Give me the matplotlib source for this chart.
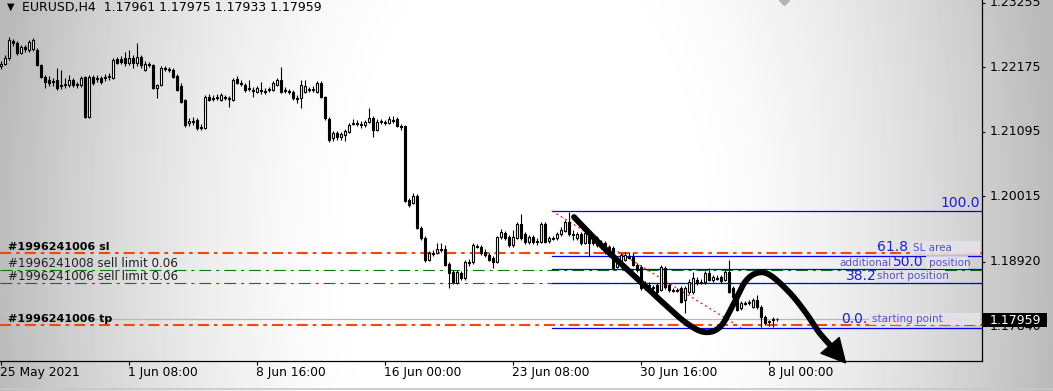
import numpy as np
import matplotlib
matplotlib.use("Agg")
import matplotlib.pyplot as plt
from matplotlib.transforms import blended_transform_factory
from matplotlib.patches import Polygon, Rectangle
from matplotlib.lines import Line2D

plt.rcParams['font.family'] = ['DejaVu Sans']
plt.rcParams['lines.scale_dashes'] = False

# ---------------- data ----------------
header_text = "EURUSD,H4  1.17961 1.17975 1.17933 1.17959"

opens = [
    1.2220, 1.2223, 1.2233, 1.2262, 1.2258, 1.2242, 1.2252, 1.2247, 1.2248, 1.2247,
    1.2221, 1.2201, 1.2196, 1.2195, 1.2196, 1.2188, 1.2188, 1.2188, 1.2196, 1.2190,
    1.2188, 1.2201, 1.2134, 1.2201, 1.2198, 1.2200, 1.2200, 1.2201, 1.2200, 1.2231,
    1.2231, 1.2233, 1.2225, 1.2233, 1.2225, 1.2235, 1.2213, 1.2223, 1.2221, 1.2183,
    1.2188, 1.2216, 1.2215, 1.2213, 1.2203, 1.2186, 1.2163, 1.2124, 1.2128, 1.2129,
    1.2118, 1.2116, 1.2168, 1.2166, 1.2166, 1.2163, 1.2168, 1.2166, 1.2163, 1.2198,
    1.2191, 1.2188, 1.2183, 1.2180, 1.2176, 1.2180, 1.2178, 1.2180, 1.2180, 1.2188,
    1.2196, 1.2180, 1.2178, 1.2176, 1.2166, 1.2166, 1.2176, 1.2180, 1.2180, 1.2176,
    1.2191, 1.2168, 1.2131, 1.2099, 1.2108, 1.2101, 1.2104, 1.2109, 1.2123, 1.2124,
    1.2123, 1.2121, 1.2126, 1.2133, 1.2113, 1.2126, 1.2126, 1.2124, 1.2129, 1.2131,
    1.2119, 1.2119, 1.1995, 1.1990, 1.2002, 1.1949, 1.1932, 1.1895, 1.1907, 1.1907,
    1.1913, 1.1913, 1.1888, 1.1875, 1.1856, 1.1873, 1.1865, 1.1892, 1.1892, 1.1918,
    1.1917, 1.1908, 1.1903, 1.1898, 1.1892, 1.1934, 1.1940, 1.1934, 1.1920, 1.1932,
    1.1955, 1.1939, 1.1925, 1.1934, 1.1927, 1.1925, 1.1955, 1.1927, 1.1932, 1.1932,
    1.1939, 1.1944, 1.1959, 1.1939, 1.1932, 1.1939, 1.1923, 1.1942, 1.1934, 1.1920,
    1.1923, 1.1923, 1.1917, 1.1915, 1.1883, 1.1892, 1.1895, 1.1900, 1.1900, 1.1887,
    1.1883, 1.1857, 1.1853, 1.1848, 1.1853, 1.1845, 1.1882, 1.1853, 1.1845, 1.1843,
    1.1848, 1.1828, 1.1841, 1.1841, 1.1862, 1.1858, 1.1858, 1.1873, 1.1862, 1.1865,
    1.1867, 1.1862, 1.1875, 1.1848, 1.1833, 1.1815, 1.1823, 1.1823, 1.1816, 1.1828,
    1.1816, 1.1800, 1.1791, 1.1795, 1.17961,
]
highs = [
    1.2228, 1.2238, 1.2268, 1.2265, 1.2262, 1.2255, 1.2255, 1.2263, 1.2267, 1.2250,
    1.2223, 1.2205, 1.2203, 1.2200, 1.2216, 1.2213, 1.2200, 1.2205, 1.2200, 1.2193,
    1.2203, 1.2203, 1.2205, 1.2205, 1.2205, 1.2203, 1.2206, 1.2208, 1.2233, 1.2235,
    1.2236, 1.2243, 1.2247, 1.2238, 1.2258, 1.2238, 1.2228, 1.2226, 1.2223, 1.2190,
    1.2220, 1.2220, 1.2218, 1.2216, 1.2206, 1.2191, 1.2164, 1.2133, 1.2134, 1.2133,
    1.2123, 1.2171, 1.2173, 1.2171, 1.2173, 1.2175, 1.2171, 1.2170, 1.2200, 1.2203,
    1.2196, 1.2191, 1.2196, 1.2185, 1.2186, 1.2193, 1.2183, 1.2185, 1.2195, 1.2200,
    1.2218, 1.2185, 1.2181, 1.2180, 1.2171, 1.2196, 1.2196, 1.2185, 1.2186, 1.2195,
    1.2195, 1.2170, 1.2134, 1.2111, 1.2111, 1.2109, 1.2114, 1.2124, 1.2131, 1.2129,
    1.2128, 1.2129, 1.2149, 1.2136, 1.2131, 1.2131, 1.2129, 1.2136, 1.2136, 1.2134,
    1.2123, 1.2121, 1.1999, 1.2007, 1.2005, 1.1952, 1.1935, 1.1910, 1.1912, 1.1923,
    1.1923, 1.1920, 1.1892, 1.1878, 1.1878, 1.1877, 1.1895, 1.1897, 1.1923, 1.1922,
    1.1920, 1.1913, 1.1907, 1.1902, 1.1935, 1.1947, 1.1944, 1.1937, 1.1945, 1.1959,
    1.1972, 1.1942, 1.1937, 1.1937, 1.1932, 1.1959, 1.1959, 1.1935, 1.1935, 1.1942,
    1.1950, 1.1962, 1.1975, 1.1945, 1.1942, 1.1942, 1.1944, 1.1945, 1.1937, 1.1935,
    1.1928, 1.1927, 1.1920, 1.1918, 1.1902, 1.1907, 1.1908, 1.1908, 1.1908, 1.1890,
    1.1887, 1.1860, 1.1858, 1.1853, 1.1857, 1.1887, 1.1885, 1.1857, 1.1848, 1.1848,
    1.1851, 1.1851, 1.1863, 1.1875, 1.1867, 1.1863, 1.1877, 1.1882, 1.1870, 1.1870,
    1.1870, 1.1878, 1.1895, 1.1851, 1.1836, 1.1826, 1.1826, 1.1828, 1.1831, 1.1836,
    1.1820, 1.1803, 1.1795, 1.1800, 1.17975,
]
lows = [
    1.2215, 1.2221, 1.2230, 1.2253, 1.2238, 1.2240, 1.2243, 1.2243, 1.2245, 1.2220,
    1.2200, 1.2183, 1.2186, 1.2186, 1.2180, 1.2181, 1.2183, 1.2185, 1.2185, 1.2183,
    1.2185, 1.2133, 1.2133, 1.2188, 1.2193, 1.2190, 1.2195, 1.2196, 1.2198, 1.2223,
    1.2223, 1.2220, 1.2221, 1.2216, 1.2220, 1.2216, 1.2211, 1.2218, 1.2181, 1.2166,
    1.2186, 1.2211, 1.2210, 1.2200, 1.2178, 1.2158, 1.2118, 1.2119, 1.2121, 1.2113,
    1.2113, 1.2114, 1.2161, 1.2161, 1.2163, 1.2161, 1.2163, 1.2151, 1.2161, 1.2190,
    1.2186, 1.2176, 1.2178, 1.2168, 1.2175, 1.2173, 1.2173, 1.2176, 1.2178, 1.2186,
    1.2175, 1.2175, 1.2173, 1.2163, 1.2158, 1.2149, 1.2175, 1.2176, 1.2176, 1.2175,
    1.2166, 1.2129, 1.2093, 1.2094, 1.2096, 1.2096, 1.2094, 1.2108, 1.2121, 1.2119,
    1.2116, 1.2118, 1.2124, 1.2101, 1.2111, 1.2123, 1.2121, 1.2123, 1.2124, 1.2118,
    1.2113, 1.1992, 1.1984, 1.1989, 1.1947, 1.1928, 1.1892, 1.1893, 1.1902, 1.1905,
    1.1908, 1.1885, 1.1848, 1.1855, 1.1855, 1.1862, 1.1862, 1.1885, 1.1888, 1.1915,
    1.1903, 1.1900, 1.1893, 1.1882, 1.1890, 1.1930, 1.1928, 1.1917, 1.1917, 1.1930,
    1.1928, 1.1922, 1.1922, 1.1922, 1.1920, 1.1923, 1.1923, 1.1923, 1.1928, 1.1928,
    1.1935, 1.1942, 1.1935, 1.1928, 1.1928, 1.1920, 1.1922, 1.1902, 1.1920, 1.1917,
    1.1913, 1.1905, 1.1900, 1.1878, 1.1882, 1.1890, 1.1893, 1.1897, 1.1885, 1.1875,
    1.1845, 1.1845, 1.1848, 1.1845, 1.1838, 1.1843, 1.1846, 1.1841, 1.1841, 1.1841,
    1.1823, 1.1806, 1.1838, 1.1838, 1.1853, 1.1855, 1.1855, 1.1860, 1.1858, 1.1862,
    1.1857, 1.1860, 1.1840, 1.1830, 1.1810, 1.1811, 1.1820, 1.1820, 1.1815, 1.1813,
    1.1783, 1.1786, 1.1785, 1.1783, 1.17933,
]
closes = [
    1.2223, 1.2233, 1.2263, 1.2258, 1.2242, 1.2252, 1.2248, 1.2260, 1.2263, 1.2221,
    1.2201, 1.2193, 1.2191, 1.2193, 1.2183, 1.2186, 1.2190, 1.2196, 1.2188, 1.2188,
    1.2200, 1.2134, 1.2201, 1.2191, 1.2200, 1.2193, 1.2201, 1.2203, 1.2230, 1.2225,
    1.2226, 1.2225, 1.2233, 1.2225, 1.2235, 1.2221, 1.2223, 1.2221, 1.2183, 1.2188,
    1.2216, 1.2215, 1.2213, 1.2201, 1.2180, 1.2160, 1.2121, 1.2128, 1.2126, 1.2116,
    1.2116, 1.2168, 1.2163, 1.2164, 1.2168, 1.2171, 1.2166, 1.2164, 1.2196, 1.2191,
    1.2190, 1.2180, 1.2181, 1.2178, 1.2183, 1.2178, 1.2176, 1.2181, 1.2191, 1.2196,
    1.2176, 1.2178, 1.2176, 1.2166, 1.2164, 1.2188, 1.2186, 1.2181, 1.2181, 1.2191,
    1.2168, 1.2133, 1.2096, 1.2108, 1.2101, 1.2106, 1.2111, 1.2121, 1.2124, 1.2123,
    1.2121, 1.2126, 1.2133, 1.2113, 1.2126, 1.2128, 1.2124, 1.2131, 1.2128, 1.2119,
    1.2118, 1.1994, 1.1987, 1.2002, 1.1949, 1.1932, 1.1895, 1.1907, 1.1905, 1.1913,
    1.1912, 1.1887, 1.1873, 1.1858, 1.1875, 1.1865, 1.1892, 1.1890, 1.1920, 1.1917,
    1.1907, 1.1903, 1.1895, 1.1892, 1.1934, 1.1942, 1.1932, 1.1920, 1.1934, 1.1955,
    1.1932, 1.1925, 1.1934, 1.1925, 1.1925, 1.1955, 1.1925, 1.1932, 1.1930, 1.1939,
    1.1945, 1.1959, 1.1939, 1.1937, 1.1939, 1.1923, 1.1940, 1.1923, 1.1923, 1.1932,
    1.1917, 1.1908, 1.1903, 1.1882, 1.1898, 1.1903, 1.1903, 1.1898, 1.1887, 1.1878,
    1.1848, 1.1848, 1.1851, 1.1850, 1.1841, 1.1883, 1.1850, 1.1845, 1.1843, 1.1845,
    1.1825, 1.1848, 1.1858, 1.1865, 1.1857, 1.1857, 1.1873, 1.1862, 1.1867, 1.1863,
    1.1860, 1.1875, 1.1841, 1.1833, 1.1811, 1.1823, 1.1821, 1.1825, 1.1828, 1.1816,
    1.1800, 1.1790, 1.1793, 1.1796, 1.17959,
]

time_labels = ["25 May 2021", "1 Jun 08:00", "8 Jun 16:00", "16 Jun 00:00",
               "23 Jun 08:00", "30 Jun 16:00", "8 Jul 00:00"]
time_label_bars = [0, 32, 64, 96, 128, 160, 192]

price_ticks = [1.23255, 1.22175, 1.21095, 1.20015, 1.18920, 1.17840]
current_price = 1.17959

order_labels = ["#1996241006 sl", "#1996241008 sell limit 0.06",
                "#1996241006 sell limit 0.06", "#1996241006 tp"]
order_prices = [1.19072, 1.18782, 1.18560, 1.17862]
order_kinds = ["sl", "limit", "limit", "tp"]

# Fibonacci retracement anchors (bar index, price)
fib_start_bar, fib_high = 137.75, 1.19770
fib_end_bar, fib_low = 185.0, 1.17816
fib_ratios = [0.0, 0.382, 0.5, 0.618, 1.0]

# hand-drawn arrow annotation (bar index, price)
arrow_bars = [143.25, 149.75, 157.25, 164.75, 171.0, 175.75, 179.75, 183.0,
              186.0, 189.0, 192.25, 197.25, 201.25, 204.25, 207.25]
arrow_prices = [1.19669, 1.19217, 1.18749, 1.18280, 1.17912, 1.17744, 1.17828,
                1.18196, 1.18581, 1.18732, 1.18698, 1.18397, 1.18062, 1.17761, 1.17527]
arrow_head_bars = [211.175, 204.925, 209.575]
arrow_head_prices = [1.17225, 1.17388, 1.17656]

# ---------------- figure ----------------
W, H = 1053, 391
PW, PH = 982, 361
fig = plt.figure(figsize=(W / 100, H / 100), dpi=100)

bg = fig.add_axes([0, 0, 1, 1])
bg.set_axis_off()
X, Y = np.meshgrid(np.arange(W), np.arange(H))
r = np.sqrt(((X - 525) / 520.0) ** 2 + ((Y - 250) / 900.0) ** 2)
t = np.clip((r - 0.3) / 0.72, 0, 1)
v = 1 - 0.27 * t ** 1.6
bg.imshow(v, cmap='gray', vmin=0, vmax=1, aspect='auto', extent=(0, W, H, 0),
          interpolation='bilinear')
bg.set_xlim(0, W)
bg.set_ylim(H, 0)

ax = fig.add_axes([0, (H - PH) / H, PW / W, PH / H])
ax.set_facecolor('none')
ax.set_xlim(-0.25, 245.25)
ax.set_ylim(1.17259, 1.23302)
for s in ['top', 'left']:
    ax.spines[s].set_visible(False)
for s in ['right', 'bottom']:
    ax.spines[s].set_color('black')
    ax.spines[s].set_linewidth(0.9)

ax.set_xticks(time_label_bars)
ax.tick_params(axis='x', length=3, width=0.8, labelbottom=False, direction='out')
ax.yaxis.set_ticks_position('right')
ax.set_yticks(price_ticks)
ax.tick_params(axis='y', length=2.5, width=0.8, labelright=False, labelleft=False,
               direction='out')

bt_xa = blended_transform_factory(ax.transData, ax.transAxes)
bt_ay = blended_transform_factory(ax.transAxes, ax.transData)

def axpx(x, y):
    return (x / PW, 1 - y / PH)

# price line (current bid)
ax.axhline(current_price, color='#b8b8b8', lw=0.9, zorder=1)

# order lines
for lab, p, kind in zip(order_labels, order_prices, order_kinds):
    if kind == 'limit':
        ax.axhline(p, color='#008000', lw=0.8, dashes=(8.5, 3.6, 2.2, 3.6), zorder=1.5)
        ax.annotate(lab, xy=(8 / PW, p), xycoords=bt_ay, xytext=(0, 3),
                    textcoords='offset pixels', va='baseline', ha='left',
                    fontsize=8.6, color='#202020', zorder=5)
    else:
        ax.axhline(p, color='#FF4500', lw=1.5, dashes=(8.0, 3.6, 2.6, 3.6), zorder=1.6)
        ax.annotate(lab, xy=(8 / PW, p), xycoords=bt_ay, xytext=(0, 3),
                    textcoords='offset pixels', va='baseline', ha='left',
                    fontsize=8, fontweight='bold', color='black', zorder=5)

# fibonacci levels
fib_prices = [fib_low + rr * (fib_high - fib_low) for rr in fib_ratios]
for p in fib_prices:
    ax.plot([fib_start_bar, 245.25], [p, p], color='#0000f0', lw=0.9, zorder=2)
ax.plot([fib_start_bar, fib_end_bar], [fib_high, fib_low], color='#ff0000', lw=0.8,
        dashes=(1.5, 2.2), zorder=2.2)

num_style = dict(color='#1a1ae6', fontsize=10, va='center', transform=ax.transAxes, zorder=5)
desc_style = dict(color='#5050d0', fontsize=7.5, va='center', transform=ax.transAxes, zorder=5)
for (x0, x1, y0, y1) in [(910, 980, 241, 254), (926, 968, 256, 269),
                         (876, 945, 270, 282), (869, 980, 313, 325)]:
    ax.add_patch(Rectangle(axpx(x0, y1), (x1 - x0) / PW, (y1 - y0) / PH,
                           transform=ax.transAxes, facecolor='#e4e4e8',
                           edgecolor='none', alpha=0.9, zorder=4))
ax.text(*axpx(980, 203), "100.0", ha='right', **num_style)
ax.text(*axpx(877, 247), "61.8", ha='left', **num_style)
ax.text(*axpx(913, 248), "SL area", ha='left', **desc_style)
ax.text(*axpx(839, 263), "additional", ha='left', **desc_style)
ax.text(*axpx(893, 262), "50.0", ha='left', **num_style)
ax.text(*axpx(929, 263), "position", ha='left', **desc_style)
ax.text(*axpx(846, 276), "38.2", ha='left', **num_style)
ax.text(*axpx(877, 276), "short position", ha='left', **desc_style)
ax.text(*axpx(841, 319), "0.0.", ha='left', **num_style)
ax.text(*axpx(872, 319), "starting point", ha='left', **desc_style)

# candles
o = np.array(opens); h = np.array(highs); l = np.array(lows); c = np.array(closes)
idx = np.arange(len(o))
up = c >= o
ax.vlines(idx, l, h, color='black', lw=0.8, zorder=3)
bb = np.minimum(o, c)
bh = np.maximum(np.abs(c - o), 0.00002)
ax.bar(idx[up], bh[up], bottom=bb[up], width=0.5, facecolor='white',
       edgecolor='black', lw=0.8, zorder=3.5)
ax.bar(idx[~up], bh[~up], bottom=bb[~up], width=0.5, facecolor='black',
       edgecolor='black', lw=0.8, zorder=3.5)

# arrow annotation (Catmull-Rom smoothing)
P = np.column_stack([arrow_bars, arrow_prices])
E = np.vstack([P[0], P, P[-1]])
pts = [P[0]]
for i in range(1, len(E) - 2):
    p0, p1, p2, p3 = E[i - 1], E[i], E[i + 1], E[i + 2]
    for tt in np.linspace(0, 1, 16)[1:]:
        t2, t3 = tt * tt, tt * tt * tt
        pts.append(0.5 * ((2 * p1) + (-p0 + p2) * tt + (2 * p0 - 5 * p1 + 4 * p2 - p3) * t2
                          + (-p0 + 3 * p1 - 3 * p2 + p3) * t3))
pts = np.array(pts)
ax.plot(pts[:, 0], pts[:, 1], color='black', lw=4.2, solid_capstyle='round',
        solid_joinstyle='round', zorder=6, clip_on=False)
ax.add_patch(Polygon(np.column_stack([arrow_head_bars, arrow_head_prices]), closed=True,
                     facecolor='black', edgecolor='black', lw=0.8, zorder=6, clip_on=False))

# price axis labels
for p in price_ticks:
    ax.text(990 / PW, p, f"{p:.5f}", transform=bt_ay, va='center', ha='left',
            fontsize=9, color='black', clip_on=False, zorder=5)

# time axis labels
for b, lab in zip(time_label_bars, time_labels):
    ax.text(b - 0.2, 1 - 373 / PH, lab, transform=bt_xa, va='center', ha='left',
            fontsize=8.8, color='black', clip_on=False)

# gray marker at top
ax.plot([784 / PW], [1.0], transform=ax.transAxes, marker='D', ms=5,
        color='#b4b4b4', clip_on=True, zorder=5)

# current price box
fig.patches.append(Rectangle((983 / W, 1 - 327 / H), 64 / W, 14 / H,
                             transform=fig.transFigure, facecolor='black',
                             edgecolor='none', zorder=3))
fig.text(990 / W, 1 - 320 / H, f"{current_price:.5f}", color='white', fontsize=9,
         va='center', ha='left', zorder=4)

# header
fig.text(7 / W, 1 - 7 / H, "\u25bc", fontsize=7, va='center', ha='left', color='black')
fig.text(22 / W, 1 - 7 / H, header_text, fontsize=9, va='center', ha='left', color='black')

fig.add_artist(Line2D([0, 1], [1 - 389 / H] * 2, transform=fig.transFigure,
                      color='#c8c8c8', lw=1.2))

fig.savefig("out.png", dpi=100)
